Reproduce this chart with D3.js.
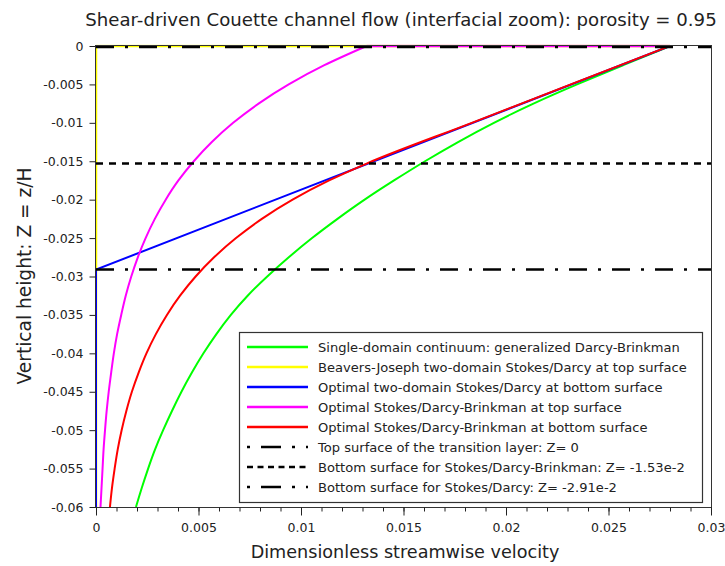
<!DOCTYPE html>
<html><head><meta charset="utf-8">
<script src="https://cdn.jsdelivr.net/npm/d3@7"></script>
<style>body{margin:0;background:#fff} svg{display:block} text{font-family:"DejaVu Sans",sans-serif;fill:#222}</style>
</head><body><svg id="c" width="725" height="566"></svg>
<script>
// ---- data ----
const zGrid = [0,-0.0025,-0.005,-0.0075,-0.01,-0.0125,-0.015,-0.0175,-0.02,-0.0225,-0.025,-0.0275,-0.03,-0.0325,-0.035,-0.0375,-0.04,-0.0425,-0.045,-0.0475,-0.05,-0.0525,-0.055,-0.0575,-0.06];
const uGreen = [0.0280,0.0257,0.02345,0.0213,0.01938,0.01764,0.01603,0.01453,0.01308,0.01177,0.01052,0.00939,0.00834,0.00737,0.00656,0.00586,0.00523,0.00467,0.00416,0.00370,0.00327,0.00287,0.00254,0.00223,0.00195];
const uMagenta = [0.0132,0.01114,0.00940,0.00793,0.00669,0.00565,0.00477,0.00402,0.00340,0.00287,0.00242,0.00204,0.00172,0.00145,0.00123,0.00103,0.00087,0.00074,0.00062,0.00052,0.00044,0.00037,0.00032,0.00027,0.00022];
const zMagentaTop = [0, 0];
const uMagentaTop = [0.0132, 0.0280];
const zRed = [0,-0.005,-0.01,-0.0153,-0.0175,-0.02,-0.0225,-0.025,-0.0275,-0.03,-0.0325,-0.035,-0.0375,-0.04,-0.0425,-0.045,-0.0475,-0.05,-0.0525,-0.055,-0.0575,-0.06];
const uRed = [0.0280,0.02316,0.01833,0.0132,0.01137,0.00959,0.00809,0.00683,0.00576,0.00486,0.00410,0.00346,0.00292,0.00246,0.00208,0.00175,0.00148,0.00125,0.00106,0.00091,0.00078,0.00068];
const zBlue = [-0.06,-0.0291,0];
const uBlue = [0,0,0.0280];
const zYellow = [-0.06,0,0];
const uYellow = [0,0,0.0280];
const surfaceZ = [0,-0.0153,-0.0291];
const xTicks = [0,0.005,0.01,0.015,0.02,0.025,0.03];
const xTickLabels = ["0","0.005","0.01","0.015","0.02","0.025","0.03"];
const yTicks = [0,-0.005,-0.01,-0.015,-0.02,-0.025,-0.03,-0.035,-0.04,-0.045,-0.05,-0.055,-0.06];
const yTickLabels = ["0","-0.005","-0.01","-0.015","-0.02","-0.025","-0.03","-0.035","-0.04","-0.045","-0.05","-0.055","-0.06"];
const legendLabels = [
 "Single-domain continuum: generalized Darcy-Brinkman",
 "Beavers-Joseph two-domain Stokes/Darcy at top surface",
 "Optimal two-domain Stokes/Darcy at bottom surface",
 "Optimal Stokes/Darcy-Brinkman at top surface",
 "Optimal Stokes/Darcy-Brinkman at bottom surface",
 "Top surface of the transition layer: Z= 0",
 "Bottom surface for Stokes/Darcy-Brinkman: Z= -1.53e-2",
 "Bottom surface for Stokes/Darcy: Z= -2.91e-2"];
const titleText = "Shear-driven Couette channel flow (interfacial zoom): porosity = 0.95";
const xLabel = "Dimensionless streamwise velocity";
const yLabel = "Vertical height: Z = z/H";

// ---- layout ----
const L=96, R=711, T=46, B=507;
const svg = d3.select("#c");
const x = d3.scaleLinear().domain([0,0.03]).range([L,R]);
const y = d3.scaleLinear().domain([-0.06,0]).range([B,T]);

function fit(sel, w, base){ sel.attr("font-size", base); const n=sel.node(); const cw=n.getComputedTextLength(); const fs=base*w/cw; sel.attr("font-size", fs); return fs; }

svg.append("rect").attr("x",L).attr("y",T).attr("width",R-L).attr("height",B-T).attr("fill","#fff");
svg.append("clipPath").attr("id","clip").append("rect").attr("x",L).attr("y",T-1.5).attr("width",R-L).attr("height",B-T+1.5);

const g = svg.append("g").attr("clip-path","url(#clip)");
const lineM = d3.line().x(d=>x(d[0])).y(d=>y(d[1])).curve(d3.curveMonotoneY);
const lineB = d3.line().x(d=>x(d[0])).y(d=>y(d[1])).curve(d3.curveBasis);
const lineL = d3.line().x(d=>x(d[0])).y(d=>y(d[1]));
const zip=(u,z)=>u.map((v,i)=>[v,z[i]]);

g.append("path").attr("d",lineB(zip(uGreen,zGrid))).attr("fill","none").attr("stroke","#00ff00").attr("stroke-width",2);
g.append("path").attr("d",lineL(zip(uYellow,zYellow))).attr("fill","none").attr("stroke","#ffff00").attr("stroke-width",2.5);
g.append("path").attr("d",lineL(zip(uBlue,zBlue))).attr("fill","none").attr("stroke","#0000ff").attr("stroke-width",2);
g.append("path").attr("d",lineM(zip(uMagenta,zGrid))).attr("fill","none").attr("stroke","#ff00ff").attr("stroke-width",2);
g.append("path").attr("d",lineL(zip(uMagentaTop,zMagentaTop))).attr("fill","none").attr("stroke","#ff00ff").attr("stroke-width",2.5);
g.append("path").attr("d",lineM(zip(uRed,zRed))).attr("fill","none").attr("stroke","#ff0000").attr("stroke-width",2);

const dashes = ["18,11,3,11","7,6","18,11,3,11"];
surfaceZ.forEach((z,i)=>{
  g.append("line").attr("x1",L).attr("x2",R).attr("y1",y(z)+(i==0?1:0)).attr("y2",y(z)+(i==0?1:0))
   .attr("stroke","#000").attr("stroke-width",2.5).attr("stroke-dasharray",dashes[i]);
});

// frame
svg.append("rect").attr("x",L-0.5).attr("y",T-0.5).attr("width",R-L+1).attr("height",B-T+1).attr("fill","none").attr("stroke","#333").attr("stroke-width",1);

// axes
const ax = svg.append("g").attr("transform",`translate(0,${B+0.5})`)
  .call(d3.axisBottom(x).tickValues(d3.range(0,31).map(i=>i*0.001)).tickSize(4).tickFormat(""));
ax.select(".domain").remove();
const ax2 = svg.append("g").attr("transform",`translate(0,${B+0.5})`)
  .call(d3.axisBottom(x).tickValues(xTicks).tickSize(8).tickPadding(8).tickFormat((d,i)=>xTickLabels[i]));
ax2.select(".domain").remove();
ax2.selectAll("text").attr("font-size",12.5).attr("font-family","DejaVu Sans").attr("fill","#222");
const ay = svg.append("g").attr("transform",`translate(${L-0.5},0)`)
  .call(d3.axisLeft(y).tickValues(yTicks).tickSize(6).tickPadding(6).tickFormat((d,i)=>yTickLabels[i]));
ay.select(".domain").remove();
ay.selectAll("text").attr("font-size",12.5).attr("font-family","DejaVu Sans").attr("fill","#222");
svg.selectAll(".tick line").attr("stroke","#222");

// titles
const t = svg.append("text").attr("x",401).attr("y",26).attr("text-anchor","middle").text(titleText);
fit(t,632,17);
const xl = svg.append("text").attr("x",405).attr("y",558).attr("text-anchor","middle").text(xLabel);
fit(xl,309,17);
const yl = svg.append("text").attr("transform","translate(31,276) rotate(-90)").attr("text-anchor","middle").text(yLabel);
fit(yl,217,17);

// legend
const lg = svg.append("g");
lg.append("rect").attr("x",239.5).attr("y",332.5).attr("width",463).attr("height",170).attr("fill","#fff").attr("stroke","#333").attr("stroke-width",1.2);
const colors = ["#00ff00","#ffff00","#0000ff","#ff00ff","#ff0000","#000","#000","#000"];
const ldash = [null,null,null,null,null,"3,11,20,11","6,4.5","3,11,20,11"];
let fs=null;
legendLabels.forEach((lab,i)=>{
  const yy = 347 + i*20;
  lg.append("line").attr("x1",247).attr("x2",308).attr("y1",yy).attr("y2",yy).attr("stroke",colors[i]).attr("stroke-width",2.5).attr("stroke-dasharray",ldash[i]);
  const tx = lg.append("text").attr("x",318).attr("y",yy+4.5).text(lab);
  if(i==0) fs = fit(tx,362,13); else tx.attr("font-size",fs);
});
</script></body></html>
